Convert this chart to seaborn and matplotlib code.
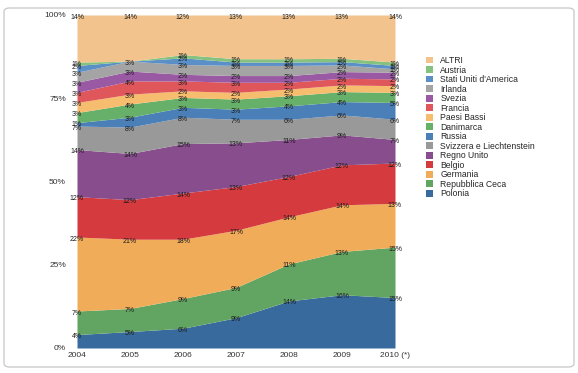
import numpy as np
import matplotlib
matplotlib.use("Agg")
import matplotlib.pyplot as plt
import seaborn as sns
from matplotlib.patches import Patch, FancyBboxPatch

# dati (quote % per paese, dal basso verso l'alto)
anni = ["2004", "2005", "2006", "2007", "2008", "2009", "2010 (*)"]
paesi = ["Polonia", "Repubblica Ceca", "Germania", "Belgio", "Regno Unito",
         "Svizzera e Liechtenstein", "Russia", "Danimarca", "Paesi Bassi",
         "Francia", "Svezia", "Irlanda", "Stati Uniti d'America", "Austria", "ALTRI"]
polonia = [4, 5, 6, 9, 14, 16, 15]
ceca = [7, 7, 9, 9, 11, 13, 15]
germania = [22, 21, 18, 17, 14, 14, 13]
belgio = [12, 12, 14, 13, 12, 12, 12]
regno_unito = [14, 14, 15, 13, 11, 9, 7]
svizzera = [7, 8, 8, 7, 6, 6, 6]
russia = [1, 3, 3, 3, 4, 4, 5]
danimarca = [3, 4, 3, 3, 3, 3, 3]
paesi_bassi = [3, 3, 2, 2, 2, 2, 2]
francia = [3, 4, 3, 3, 2, 2, 2]
svezia = [3, 3, 2, 2, 2, 2, 2]
irlanda = [3, 3, 3, 3, 3, 2, 1]
usa = [2, 0, 2, 1, 1, 1, 1]
austria = [1, 0, 1, 1, 1, 1, 1]
altri = [14, 14, 12, 13, 13, 13, 14]

colori = ["#386a9d", "#62a562", "#f0ac58", "#d53a3e", "#874d8c", "#999999",
          "#4a7fb8", "#67b06a", "#f7bd6f", "#e0575b", "#9a5aa3", "#a4a4a4",
          "#5b8fc7", "#86c27f", "#f2c38c"]

serie = np.array([polonia, ceca, germania, belgio, regno_unito, svizzera, russia,
                  danimarca, paesi_bassi, francia, svezia, irlanda, usa, austria, altri],
                 dtype=float)
quote = serie / serie.sum(axis=0) * 100
cum = np.cumsum(quote, axis=0)

sns.set_theme(style="white")
plt.rcParams['font.family'] = ['Liberation Sans', 'DejaVu Sans']

fig = plt.figure(figsize=(5.78, 3.73), dpi=100)
ax = fig.add_axes([77 / 578, 1 - 348 / 373, (395 - 77) / 578, (348 - 15) / 373])
x = np.arange(len(anni))
ax.stackplot(x, quote, colors=colori, linewidth=0)

for i in range(len(paesi)):
    for j in range(len(anni)):
        if serie[i, j] > 0:
            ax.annotate(f"{int(serie[i, j])}%", (x[j], cum[i, j]), xytext=(0, -1.5),
                        textcoords="offset points", ha="center", va="center",
                        fontsize=5, color="#1a1a1a")

ax.set_xlim(0, len(anni) - 1)
ax.set_ylim(0, 100)
ax.set_xticks(x)
ax.set_xticklabels(anni, fontsize=6)
ax.set_yticks([0, 25, 50, 75, 100])
ax.set_yticklabels(["0%", "25%", "50%", "75%", "100%"], fontsize=6)
ax.tick_params(axis="both", length=0, colors="#333333")
ax.tick_params(axis="y", pad=8)
ax.tick_params(axis="x", pad=3)
sns.despine(ax=ax, left=True, bottom=True)

handles = [Patch(facecolor=colori[i], edgecolor="none", label=paesi[i])
           for i in range(len(paesi) - 1, -1, -1)]
ax.legend(handles=handles, loc="upper left", bbox_to_anchor=(426 / 578, 1 - 56 / 373),
          bbox_transform=fig.transFigure, frameon=False, fontsize=6.2,
          handlelength=0.85, handleheight=0.85, handletextpad=0.8,
          labelspacing=0.06, borderaxespad=0, borderpad=0)

cornice = FancyBboxPatch((4 / 578, 1 - 367 / 373), 570 / 578, 359 / 373,
                         boxstyle="round,pad=0,rounding_size=0.01",
                         transform=fig.transFigure, facecolor="none",
                         edgecolor="#cccccc", linewidth=1.0)
fig.patches.append(cornice)

fig.savefig("out.png", dpi=100)
